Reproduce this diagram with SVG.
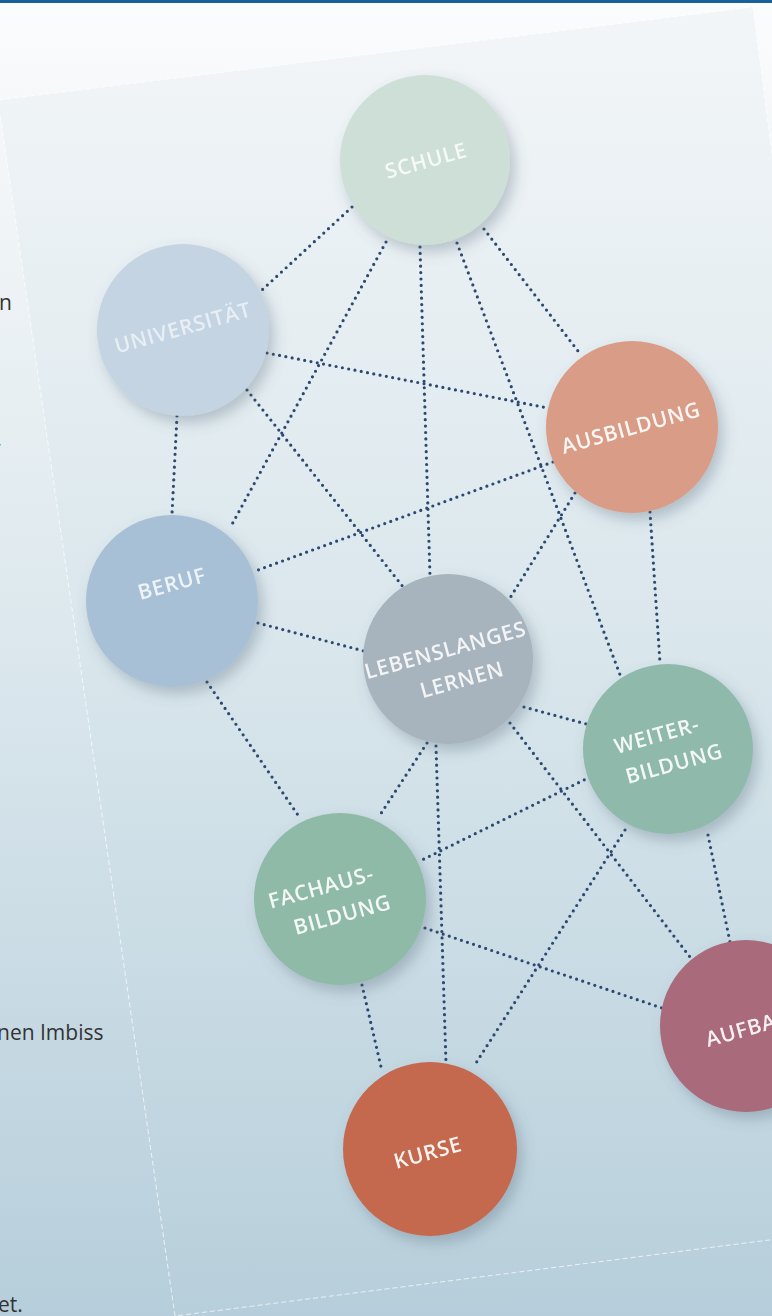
<svg xmlns="http://www.w3.org/2000/svg" width="772" height="1316" viewBox="0 0 772 1316">
  <defs>
    <linearGradient id="bg" x1="0" y1="0" x2="0" y2="1">
      <stop offset="0" stop-color="#fbfcfd"/>
      <stop offset="0.15" stop-color="#f1f5f7"/>
      <stop offset="0.5" stop-color="#dbe7ed"/>
      <stop offset="1" stop-color="#b6cedb"/>
    </linearGradient>
    <linearGradient id="page" x1="0" y1="0" x2="0" y2="1316" gradientUnits="userSpaceOnUse">
      <stop offset="0" stop-color="#f3f6f8"/>
      <stop offset="0.5" stop-color="#d9e6ec"/>
      <stop offset="1" stop-color="#b7cfdb"/>
    </linearGradient>
    <filter id="shadow" x="-30%" y="-30%" width="170%" height="170%">
      <feDropShadow dx="5" dy="7" stdDeviation="7" flood-color="#4f6676" flood-opacity="0.33"/>
    </filter>
    <style>
      .lnk { fill: none; stroke: #2c4a71; stroke-width: 3.2; stroke-linecap: round; stroke-dasharray: 0 6.4; }
      .edge { fill: none; stroke: #ffffff; stroke-width: 1; stroke-dasharray: 5 3; stroke-opacity: 0.7; }
      .lbl { font-family: "Open Sans", "Noto Sans", sans-serif; font-weight: 600; font-size: 21px; letter-spacing: 0.8px; text-anchor: middle; fill: #ffffff; }
      .side { font-family: "Open Sans", "Noto Sans", sans-serif; font-size: 21px; fill: #333333; }
    </style>
  </defs>

  <!-- backdrop and tilted sheet -->
  <rect x="0" y="0" width="772" height="1316" fill="url(#bg)"/>
  <polygon points="-2,100 753,7 910,1222 175,1316" fill="url(#page)"/>
  <polyline class="edge" points="-2,100 753,7 910,1222"/>
  <polyline class="edge" points="-2,100 175,1316 910,1222"/>
  <rect x="0" y="0" width="772" height="3" fill="#17629d"/>

  <!-- text of the underlying page -->
  <g id="side-text">
    <text class="side" x="-1" y="310">n</text>
    <text class="side" x="-7" y="460" fill="#1d6fb8">/</text>
    <text class="side" x="-3" y="1040">nen Imbiss</text>
    <text class="side" x="-2" y="1312">et.</text>
  </g>

  <!-- dotted connections -->
  <g id="connectors">
    <line class="lnk" x1="352" y1="207" x2="262" y2="290"/>
    <line class="lnk" x1="386" y1="242" x2="230" y2="528"/>
    <line class="lnk" x1="420" y1="247" x2="430" y2="576"/>
    <line class="lnk" x1="457" y1="243" x2="622" y2="680"/>
    <line class="lnk" x1="484" y1="229" x2="578" y2="351"/>
    <line class="lnk" x1="267" y1="353" x2="548" y2="408"/>
    <line class="lnk" x1="177" y1="416" x2="172" y2="514"/>
    <line class="lnk" x1="247" y1="390" x2="404" y2="588"/>
    <line class="lnk" x1="553" y1="462" x2="258" y2="570"/>
    <line class="lnk" x1="575" y1="493" x2="510" y2="598"/>
    <line class="lnk" x1="650" y1="512" x2="660" y2="663"/>
    <line class="lnk" x1="258" y1="623" x2="364" y2="651"/>
    <line class="lnk" x1="207" y1="682" x2="300" y2="818"/>
    <line class="lnk" x1="524" y1="707" x2="590" y2="725"/>
    <line class="lnk" x1="427" y1="743" x2="378" y2="818"/>
    <line class="lnk" x1="436" y1="746" x2="446" y2="1063"/>
    <line class="lnk" x1="510" y1="723" x2="690" y2="957"/>
    <line class="lnk" x1="590" y1="777" x2="422" y2="860"/>
    <line class="lnk" x1="625" y1="830" x2="476" y2="1063"/>
    <line class="lnk" x1="708" y1="835" x2="730" y2="942"/>
    <line class="lnk" x1="425" y1="928" x2="662" y2="1008"/>
    <line class="lnk" x1="362" y1="985" x2="382" y2="1071"/>
  </g>

  <!-- circles -->
  <g id="schule" filter="url(#shadow)">
    <circle cx="425" cy="160" r="85" fill="#cddfd7"/>
    <text class="lbl" x="426" y="168" fill-opacity="0.8" transform="rotate(-15.5 426 160)">SCHULE</text>
  </g>
  <g id="universitaet" filter="url(#shadow)">
    <circle cx="183" cy="330" r="86" fill="#c4d4e3"/>
    <text class="lbl" x="183" y="335" fill-opacity="0.6" transform="rotate(-15.5 183 328)">UNIVERSITÄT</text>
  </g>
  <g id="ausbildung" filter="url(#shadow)">
    <circle cx="632" cy="427" r="86" fill="#d99c86"/>
    <text class="lbl" x="631" y="435" fill-opacity="0.92" transform="rotate(-15.5 631 428)">AUSBILDUNG</text>
  </g>
  <g id="beruf" filter="url(#shadow)">
    <circle cx="172" cy="601" r="86" fill="#a8c0d5"/>
    <text class="lbl" x="172" y="591" fill-opacity="0.8" transform="rotate(-15.5 172 584)">BERUF</text>
  </g>
  <g id="lebenslanges-lernen" filter="url(#shadow)">
    <circle cx="448" cy="659" r="85" fill="#a8b4bd"/>
    <text class="lbl" fill-opacity="0.85" transform="rotate(-15.5 448 659)">
      <tspan x="451" y="657">LEBENSLANGES</tspan>
      <tspan x="456" y="690">LERNEN</tspan>
    </text>
  </g>
  <g id="weiterbildung" filter="url(#shadow)">
    <circle cx="668" cy="749" r="85" fill="#8fb9aa"/>
    <text class="lbl" fill-opacity="0.9" transform="rotate(-15.5 668 749)">
      <tspan x="664" y="740">WEITER-</tspan>
      <tspan x="670" y="772">BILDUNG</tspan>
    </text>
  </g>
  <g id="fachausbildung" filter="url(#shadow)">
    <circle cx="340" cy="899" r="86" fill="#8fbaa8"/>
    <text class="lbl" fill-opacity="0.9" transform="rotate(-15.5 340 899)">
      <tspan x="328" y="890">FACHAUS-</tspan>
      <tspan x="338" y="922">BILDUNG</tspan>
    </text>
  </g>
  <g id="aufbau" filter="url(#shadow)">
    <circle cx="746" cy="1026" r="86" fill="#a96a7b"/>
    <text class="lbl" x="708" y="1047" fill-opacity="0.9" style="text-anchor:start" transform="rotate(-15.5 708 1047)">AUFBA</text>
  </g>
  <g id="kurse" filter="url(#shadow)">
    <circle cx="430" cy="1149" r="87" fill="#c4694d"/>
    <text class="lbl" x="428" y="1160" fill-opacity="0.92" transform="rotate(-15.5 428 1153)">KURSE</text>
  </g>
</svg>
